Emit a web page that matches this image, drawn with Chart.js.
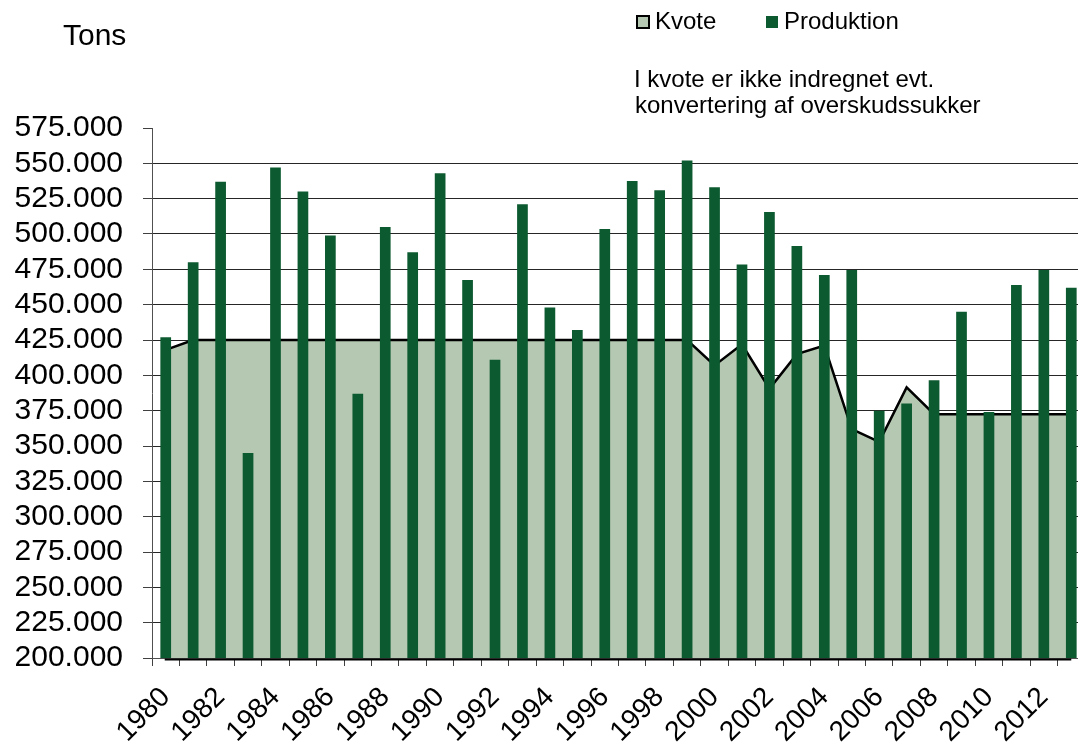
<!DOCTYPE html>
<html><head><meta charset="utf-8">
<script src="https://cdn.jsdelivr.net/npm/chart.js@4"></script>
<style>
html,body{margin:0;padding:0;overflow:hidden;background:#fff;width:1078px;height:742px;}
#wrap{position:absolute;left:0;top:0;width:1090px;height:742px;}
.t{position:absolute;font-family:"Liberation Sans",Arial,sans-serif;color:#000;line-height:1;white-space:nowrap;}
.box{position:absolute;box-sizing:border-box;}
</style></head><body>
<div id="wrap"><canvas id="c" width="1090" height="742"></canvas></div>
<div class="t" style="left:63px;top:19.6px;font-size:30px">Tons</div>
<div class="box" style="left:636px;top:15px;width:14px;height:14px;background:#b5c8b1;border:2px solid #000"></div>
<div class="t" style="left:655px;top:9px;font-size:24px">Kvote</div>
<div class="box" style="left:766px;top:16px;width:12px;height:12px;background:#0c5a30"></div>
<div class="t" style="left:784px;top:9px;font-size:24px">Produktion</div>
<div class="t" style="left:634px;top:67px;font-size:24px">I kvote er ikke indregnet evt.</div>
<div class="t" style="left:635px;top:93px;font-size:24px">konvertering af overskudssukker</div>
<script>
const years = [1980,1981,1982,1983,1984,1985,1986,1987,1988,1989,1990,1991,1992,1993,1994,1995,1996,1997,1998,1999,2000,2001,2002,2003,2004,2005,2006,2007,2008,2009,2010,2011,2012,2013];
const produktion = [427000,480000,537000,345000,547000,530000,499000,387000,505000,487000,543000,467500,411000,521000,448000,432000,503500,537500,531000,552000,533000,478500,515500,491500,471000,474500,375000,380000,396500,445000,374000,464000,474500,462000];
const kvote = [418000,425000,425000,425000,425000,425000,425000,425000,425000,425000,425000,425000,425000,425000,425000,425000,425000,425000,425000,425000,407000,422000,390500,415000,421000,362000,353000,391500,372500,372500,372500,372500,372500,372500];
const yMin = 200000, yMax = 575000, yStep = 25000;
const seriesNames = ['Kvote','Produktion'];

function fmt(v){ return String(v).replace(/\B(?=(\d{3})+(?!\d))/g,'.'); }
const FONT = '"Liberation Sans", Arial, sans-serif';

const shadow = {
  id:'shadow',
  afterDatasetsDraw(chart){
    const x = chart.scales.x, y = chart.scales.y, ctx = chart.ctx;
    const yy = y.getPixelForValue(yMin) + 1.5;
    ctx.save();
    ctx.strokeStyle = '#000'; ctx.lineWidth = 2;
    ctx.beginPath();
    ctx.moveTo(x.getPixelForValue(0) - 1, yy);
    ctx.lineTo(x.getPixelForValue(years.length - 1), yy);
    ctx.stroke();
    ctx.restore();
  }
};

new Chart(document.getElementById('c'), {
  type: 'bar',
  data: {
    labels: years.map(String),
    datasets: [
      { type:'line', label: seriesNames[0], data: kvote, borderColor:'#000', borderWidth:2.5,
        backgroundColor:'#b5c8b1', fill:'start', pointRadius:0, tension:0, order:2 },
      { type:'bar', label: seriesNames[1], data: produktion, backgroundColor:'#0c5a30',
        barPercentage:0.39, categoryPercentage:1, order:1 }
    ]
  },
  options: {
    responsive:false, animation:false, devicePixelRatio:1,
    layout:{ padding:{ left:0, top:128, right:5, bottom:0 } },
    plugins:{ legend:{display:false}, title:{display:false}, tooltip:{enabled:false} },
    scales:{
      x:{
        offset:true,
        grid:{ display:true, offset:true, drawOnChartArea:false, drawTicks:true, tickLength:8, color:'#404040' },
        border:{ display:true, color:'#505050', width:1 },
        ticks:{ autoSkip:false, minRotation:45, maxRotation:45, padding:15, color:'#000',
          font:{ family:FONT, size:28 },
          callback:(v,i)=> (years[i] % 2 === 0 ? String(years[i]) : '') },
        afterFit:(s)=>{ s.height = 84; s.paddingLeft = 0; s.paddingRight = 0; }
      },
      y:{
        min:yMin, max:yMax,
        grid:{ color:(c)=> (c.tick && c.tick.value === yMax ? 'rgba(0,0,0,0)' : '#262626'),
               tickColor:'#404040', tickLength:9, drawTicks:true, lineWidth:1 },
        border:{ display:true, color:'#505050', width:1 },
        ticks:{ stepSize:yStep, autoSkip:false, padding:20, color:'#000', font:{ family:FONT, size:30 },
          callback:(v)=>fmt(v) },
        afterFit:(s)=>{ s.width = 152; s.paddingTop = 0; s.paddingBottom = 0; }
      }
    }
  },
  plugins:[shadow]
});
</script>
</body></html>
